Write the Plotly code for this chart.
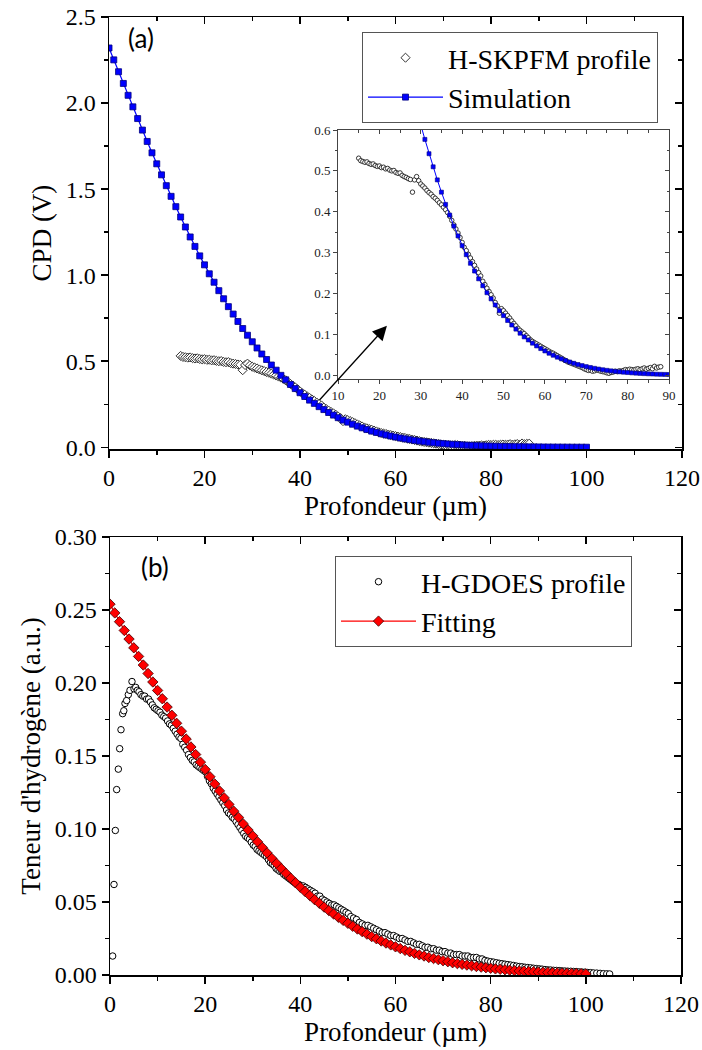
import plotly.graph_objects as go

# ---------------- data ----------------
sim_x = [0, 1, 2, 3, 4, 5, 6, 7, 8, 9, 10, 11, 12, 13, 14, 15, 16, 17, 18, 19, 20,
         21, 22, 23, 24, 25, 26, 27, 28, 29, 30, 31, 32, 33, 34, 35, 36, 37, 38, 39, 40,
         41, 42, 43, 44, 45, 46, 47, 48, 49, 50, 51, 52, 53, 54, 55, 56, 57, 58, 59, 60,
         61, 62, 63, 64, 65, 66, 67, 68, 69, 70, 71, 72, 73, 74, 75, 76, 77, 78, 79, 80,
         81, 82, 83, 84, 85, 86, 87, 88, 89, 90, 91, 92, 93, 94, 95, 96, 97, 98, 99, 100]
sim_y = [2.320, 2.251, 2.182, 2.114, 2.045, 1.978, 1.910, 1.843, 1.777, 1.711, 1.647,
         1.583, 1.520, 1.458, 1.398, 1.338, 1.280, 1.222, 1.167, 1.112, 1.060,
         1.008, 0.959, 0.910, 0.863, 0.817, 0.774, 0.731, 0.690, 0.651, 0.613,
         0.577, 0.542, 0.510, 0.478, 0.448, 0.418, 0.392, 0.365, 0.341, 0.317,
         0.295, 0.274, 0.255, 0.236, 0.219, 0.202, 0.187, 0.172, 0.158, 0.146,
         0.134, 0.123, 0.113, 0.103, 0.094, 0.0865, 0.0786, 0.0719, 0.0654, 0.0596,
         0.0540, 0.0491, 0.0444, 0.0402, 0.0362, 0.0326, 0.0294, 0.0264, 0.0238, 0.0213,
         0.0192, 0.0171, 0.0153, 0.0136, 0.0122, 0.0109, 0.0097, 0.0086, 0.0076, 0.0068,
         0.0060, 0.0053, 0.0047, 0.0041, 0.0036, 0.0032, 0.0028, 0.0025, 0.0022, 0.0019,
         0.0016, 0.0014, 0.0012, 0.0011, 0.0009, 0.0008, 0.0007, 0.0006, 0.0005, 0.0004]

skpfm_x = [15.0, 15.5, 16.0, 16.5, 17.0, 17.5, 18.0, 18.5, 19.0, 19.5, 20.0, 20.5, 21.0, 21.5,
           22.0, 22.5, 23.0, 23.5, 24.0, 24.5, 25.0, 25.5, 26.0, 26.5, 27.0, 27.5, 28.0,
           28.5, 29.0, 29.5, 30.0, 30.5, 31.0, 31.5, 32.0, 32.5, 33.0, 33.5, 34.0, 34.5,
           35.0, 35.5, 36.0, 36.5, 37.0, 37.5, 38.0, 38.5, 39.0, 39.5, 40.0,
           40.5, 41.0, 41.5, 42.0, 42.5, 43.0, 43.5, 44.0, 44.5, 45.0, 45.5, 46.0,
           46.5, 47.0, 47.5, 48.0, 48.5, 49.0, 49.5, 50.0, 50.5, 51.0, 51.5, 52.0,
           52.5, 53.0, 53.5, 54.0, 54.5, 55.0, 55.5, 56.0, 56.5, 57.0, 57.5, 58.0,
           58.5, 59.0, 59.5, 60.0, 60.5, 61.0, 61.5, 62.0, 62.5, 63.0, 63.5, 64.0,
           64.5, 65.0, 65.5, 66.0, 66.5, 67.0, 67.5, 68.0, 68.5, 69.0, 69.5, 70.0,
           70.5, 71.0, 71.5, 72.0, 72.5, 73.0, 73.5, 74.0, 74.5, 75.0, 75.5, 76.0,
           76.5, 77.0, 77.5, 78.0, 78.5, 79.0, 79.5, 80.0, 80.5, 81.0, 81.5, 82.0,
           82.5, 83.0, 83.5, 84.0, 84.5, 85.0, 85.5, 86.0, 86.5, 87.0, 87.5, 88.0]
skpfm_y = [0.531, 0.525, 0.523, 0.521, 0.522, 0.518, 0.516, 0.517, 0.513, 0.511, 0.512, 0.508, 0.509, 0.505,
           0.506, 0.502, 0.500, 0.501, 0.496, 0.494, 0.495, 0.489, 0.486, 0.484, 0.481, 0.479, 0.448,
           0.478, 0.486, 0.476, 0.468, 0.463, 0.458, 0.452, 0.447, 0.443, 0.437, 0.433, 0.428, 0.422,
           0.417, 0.411, 0.405, 0.398, 0.389, 0.379, 0.368, 0.358, 0.348, 0.337, 0.325,
           0.313, 0.305, 0.296, 0.287, 0.278, 0.269, 0.260, 0.251, 0.243, 0.230, 0.222, 0.213,
           0.205, 0.197, 0.189, 0.178, 0.170, 0.152, 0.163, 0.158, 0.152, 0.146, 0.140, 0.133,
           0.127, 0.121, 0.115, 0.110, 0.106, 0.102, 0.097, 0.092, 0.087, 0.083, 0.080, 0.077,
           0.074, 0.071, 0.068, 0.065, 0.062, 0.059, 0.056, 0.054, 0.051, 0.048, 0.045, 0.042,
           0.039, 0.036, 0.033, 0.031, 0.029, 0.027, 0.025, 0.023, 0.021, 0.019, 0.016, 0.014,
           0.012, 0.013, 0.010, 0.011, 0.013, 0.012, 0.010, 0.009, 0.008, 0.006, 0.005, 0.007,
           0.008, 0.010, 0.009, 0.011, 0.010, 0.012, 0.014, 0.013, 0.015, 0.014, 0.013, 0.015,
           0.016, 0.014, 0.016, 0.018, 0.015, 0.017, 0.019, 0.016, 0.022, 0.018, 0.020, 0.021]

fit_x = sim_x
fit_y = [0.2540, 0.2480, 0.2420, 0.2360, 0.2301, 0.2241, 0.2182, 0.2123, 0.2065, 0.2007, 0.1949,
         0.1892, 0.1835, 0.1779, 0.1724, 0.1670, 0.1616, 0.1562, 0.1510, 0.1458, 0.1408,
         0.1358, 0.1309, 0.1261, 0.1213, 0.1168, 0.1122, 0.1079, 0.1035, 0.0993, 0.0953,
         0.0912, 0.0874, 0.0836, 0.0799, 0.0764, 0.0729, 0.0696, 0.0663, 0.0632, 0.0601,
         0.0572, 0.0544, 0.0516, 0.0491, 0.0465, 0.0441, 0.0418, 0.0395, 0.0374, 0.0354,
         0.0334, 0.0315, 0.0297, 0.0280, 0.0263, 0.0248, 0.0233, 0.0219, 0.0206, 0.0193,
         0.0181, 0.0169, 0.0159, 0.0148, 0.0138, 0.0130, 0.0120, 0.0113, 0.0105, 0.0098,
         0.0091, 0.0084, 0.0078, 0.0073, 0.0068, 0.0063, 0.0058, 0.0054, 0.0050, 0.0046,
         0.0042, 0.0039, 0.0036, 0.0033, 0.0030, 0.0028, 0.0026, 0.0024, 0.0022, 0.0020,
         0.0018, 0.0017, 0.0015, 0.0014, 0.0013, 0.0012, 0.0011, 0.0010, 0.0009, 0.0008]

gdoes_x = [0.56, 0.84, 1.12, 1.40, 1.75, 2.03, 2.31, 2.66, 2.90, 3.15, 3.50, 3.85, 4.20, 4.62,
           5.05, 5.40, 5.75, 6.10, 6.50, 6.90, 7.30, 7.70, 8.10, 8.50, 8.90, 9.30, 9.70,
           10.1, 10.5, 10.9, 11.3, 11.7, 12.1, 12.5, 12.9, 13.3, 13.7, 14.1, 14.5, 14.9,
           15.3, 15.7, 16.1, 16.5, 16.9, 17.3, 17.7, 18.1, 18.5, 18.9, 19.3, 19.7,
           20.1, 20.5, 20.9, 21.3, 21.7, 22.1, 22.5, 22.9, 23.3, 23.7, 24.1, 24.5, 24.9,
           25.3, 25.7, 26.1, 26.5, 26.9, 27.3, 27.7, 28.1, 28.5, 28.9, 29.3, 29.7,
           30.1, 30.5, 30.9, 31.3, 31.7, 32.1, 32.5, 32.9, 33.3, 33.7, 34.1, 34.5, 34.9,
           35.3, 35.7, 36.1, 36.5, 36.9, 37.3, 37.7, 38.1, 38.5, 38.9, 39.3, 39.7,
           40.1, 40.6, 41.1, 41.6, 42.1, 42.6, 43.1, 43.6, 44.1, 44.6, 45.1, 45.6,
           46.1, 46.6, 47.1, 47.6, 48.1, 48.6, 49.1, 49.6, 50.1, 50.6,
           51.2, 51.8, 52.4, 53.0, 53.6, 54.2, 54.8, 55.4, 56.0, 56.6, 57.2, 57.8,
           58.4, 59.0, 59.6, 60.2, 60.8, 61.4, 62.0, 62.6, 63.2, 63.8, 64.4, 65.0,
           65.6, 66.2, 66.8, 67.4, 68.0, 68.6, 69.2, 69.8, 70.4, 71.0, 71.6, 72.2,
           72.8, 73.4, 74.0, 74.6, 75.2, 75.8, 76.4, 77.0, 77.6, 78.2, 78.8, 79.4,
           80.0, 80.6, 81.2, 81.8, 82.4, 83.0, 83.6, 84.2, 84.8, 85.4, 86.0, 86.6,
           87.2, 87.8, 88.4, 89.0, 89.6, 90.2, 90.8, 91.4, 92.0, 92.6, 93.2, 93.8,
           94.4, 95.0, 95.6, 96.2, 96.8, 97.4, 98.0, 98.6, 99.2, 99.8, 100.4, 101.0,
           101.6, 102.3, 103.0, 103.7, 104.4, 105.0]
gdoes_y = [0.013, 0.062, 0.099, 0.127, 0.141, 0.155, 0.168, 0.179, 0.181, 0.186, 0.188, 0.192, 0.195, 0.201,
           0.196, 0.197, 0.195, 0.194, 0.192, 0.191, 0.191, 0.189, 0.189, 0.187, 0.185, 0.183, 0.182,
           0.181, 0.180, 0.178, 0.177, 0.176, 0.174, 0.172, 0.171, 0.169, 0.167, 0.165, 0.163, 0.162,
           0.158, 0.156, 0.154, 0.151, 0.149, 0.147, 0.146, 0.144, 0.143, 0.142, 0.141, 0.140,
           0.139, 0.136, 0.133, 0.131, 0.128, 0.126, 0.124, 0.122, 0.120, 0.118, 0.116, 0.113, 0.111,
           0.110, 0.108, 0.107, 0.105, 0.103, 0.101, 0.099, 0.097, 0.095, 0.094, 0.093, 0.091,
           0.089, 0.088, 0.086, 0.085, 0.084, 0.083, 0.082, 0.081, 0.079, 0.077, 0.076, 0.075, 0.073,
           0.072, 0.071, 0.071, 0.069, 0.068, 0.067, 0.066, 0.065, 0.064, 0.063, 0.062, 0.062,
           0.061, 0.061, 0.060, 0.059, 0.058, 0.057, 0.056, 0.054, 0.054, 0.052, 0.051, 0.050,
           0.049, 0.048, 0.048, 0.047, 0.046, 0.045, 0.044, 0.043, 0.042, 0.040,
           0.039, 0.038, 0.036, 0.035, 0.034, 0.034, 0.033, 0.032, 0.031, 0.030, 0.029, 0.029,
           0.028, 0.027, 0.027, 0.026, 0.025, 0.025, 0.024, 0.023, 0.023, 0.022, 0.021, 0.021,
           0.020, 0.019, 0.019, 0.018, 0.018, 0.017, 0.017, 0.016, 0.016, 0.015, 0.015, 0.014,
           0.014, 0.014, 0.013, 0.013, 0.013, 0.012, 0.012, 0.012, 0.011, 0.011, 0.010, 0.0095,
           0.0091, 0.0088, 0.0084, 0.0080, 0.0077, 0.0074, 0.0071, 0.0068, 0.0065, 0.0061, 0.0058, 0.0056,
           0.0053, 0.0051, 0.0049, 0.0046, 0.0044, 0.0042, 0.0040, 0.0037, 0.0035, 0.0034, 0.0032, 0.0031,
           0.0030, 0.0028, 0.0027, 0.0026, 0.0025, 0.0024, 0.0023, 0.0021, 0.0020, 0.0019, 0.0017, 0.0016,
           0.0014, 0.0013, 0.0011, 0.0009, 0.0008, 0.0007]

# ---------------- styling ----------------
W, H = 702, 1050
SERIF = "Liberation Serif"
TICK_FONT = dict(family=SERIF, size=24, color="black")
TITLE_FONT = dict(family=SERIF, size=27, color="black")


def dom_x(a, b):
    return [a / W, b / W]


def dom_y(top, bottom):
    return [1 - bottom / H, 1 - top / H]


def main_axis(**kw):
    d = dict(showline=True, linecolor="black", linewidth=1.5, mirror=False, automargin=False,
             ticks="outside", ticklen=7, tickwidth=1.5, tickcolor="black",
             showgrid=False, zeroline=False, tickfont=TICK_FONT,
             minor=dict(ticks="outside", ticklen=4, tickwidth=1.5, tickcolor="black", showgrid=False))
    d.update(kw)
    return d


def mirror_axis(**kw):
    d = dict(showline=True, linecolor="black", linewidth=1.5, automargin=False,
             ticks="inside", ticklen=7, tickwidth=1.5, tickcolor="black",
             showgrid=False, zeroline=False, showticklabels=False,
             minor=dict(ticks="inside", ticklen=4, tickwidth=1.5, tickcolor="black", showgrid=False))
    d.update(kw)
    return d


def inset_axis(**kw):
    d = dict(showline=True, linecolor="#444", linewidth=1, automargin=False,
             ticks="outside", ticklen=4, tickwidth=1, tickcolor="#444",
             showgrid=False, zeroline=False,
             tickfont=dict(family=SERIF, size=13, color="#222"),
             minor=dict(ticks="outside", ticklen=2.5, tickwidth=1, tickcolor="#444", showgrid=False))
    d.update(kw)
    return d


def inset_mirror(**kw):
    d = dict(showline=True, linecolor="#444", linewidth=1, automargin=False,
             ticks="inside", ticklen=4, tickwidth=1, tickcolor="#444",
             showgrid=False, zeroline=False, showticklabels=False,
             minor=dict(ticks="inside", ticklen=2.5, tickwidth=1, tickcolor="#444", showgrid=False))
    d.update(kw)
    return d


fig = go.Figure()

# ---- panel (a) main ----
fig.add_trace(go.Scatter(
    x=skpfm_x, y=skpfm_y, mode="markers", name="H-SKPFM profile",
    marker=dict(symbol="diamond", size=7, color="white", line=dict(color="#333", width=1)),
    xaxis="x", yaxis="y", legend="legend"))
fig.add_trace(go.Scatter(
    x=sim_x, y=sim_y, mode="lines+markers", name="Simulation",
    line=dict(color="#0000ff", width=1.2),
    marker=dict(symbol="square", size=6, color="#0000ff", line=dict(color="#000080", width=0.8)),
    xaxis="x", yaxis="y", legend="legend"))

# ---- panel (a) inset ----
fig.add_trace(go.Scatter(
    x=skpfm_x, y=skpfm_y, mode="markers", showlegend=False,
    marker=dict(symbol="circle", size=4.5, color="white", line=dict(color="#222", width=0.9)),
    xaxis="x2", yaxis="y2"))
fig.add_trace(go.Scatter(
    x=sim_x, y=sim_y, mode="lines+markers", showlegend=False,
    line=dict(color="#0000ff", width=1),
    marker=dict(symbol="square", size=4, color="#0000ff", line=dict(color="#000080", width=0.6)),
    xaxis="x2", yaxis="y2"))

# ---- panel (b) ----
fig.add_trace(go.Scatter(
    x=gdoes_x, y=gdoes_y, mode="markers", name="H-GDOES profile",
    marker=dict(symbol="circle", size=6.5, color="white", line=dict(color="black", width=1)),
    xaxis="x3", yaxis="y3", legend="legend2"))
fig.add_trace(go.Scatter(
    x=fit_x, y=fit_y, mode="lines+markers", name="Fitting",
    line=dict(color="#ff0000", width=1.2),
    marker=dict(symbol="diamond", size=8, color="#ff0000", line=dict(color="#400000", width=0.8)),
    xaxis="x3", yaxis="y3", legend="legend2"))

# empty traces so that mirror axes are drawn
for xa, ya in [("x4", "y4"), ("x5", "y5"), ("x6", "y6")]:
    fig.add_trace(go.Scatter(x=[], y=[], xaxis=xa, yaxis=ya, showlegend=False, hoverinfo="skip"))

A_X = dom_x(109, 682)
A_Y = dom_y(17, 449)
I_X = dom_x(338, 669)
I_Y = dom_y(130, 379)
B_X = dom_x(110, 681)
B_Y = dom_y(537, 975)

fig.update_layout(
    width=W, height=H,
    margin=dict(l=0, r=0, t=0, b=0, autoexpand=False),
    paper_bgcolor="white", plot_bgcolor="white",
    font=dict(family=SERIF, color="black"),
    xaxis=main_axis(domain=A_X, range=[0, 120], dtick=20, anchor="y",
                    minor_dtick=10,
                    title=dict(text="Profondeur (µm)", font=TITLE_FONT, standoff=2)),
    yaxis=main_axis(domain=A_Y, range=[-0.01, 2.5], dtick=0.5, tickformat=".1f", anchor="x",
                    minor_dtick=0.25,
                    title=dict(text="CPD (V)", font=TITLE_FONT, standoff=6)),
    xaxis4=mirror_axis(domain=A_X, range=[0, 120], dtick=20, minor_dtick=10,
                       anchor="y4", side="top", overlaying="x"),
    yaxis4=mirror_axis(domain=A_Y, range=[-0.01, 2.5], dtick=0.5, minor_dtick=0.25,
                       anchor="x4", side="right", overlaying="y"),
    xaxis2=inset_axis(domain=I_X, range=[10, 90], dtick=10, minor_dtick=5, anchor="y2"),
    yaxis2=inset_axis(domain=I_Y, range=[-0.009, 0.6], dtick=0.1, minor_dtick=0.05,
                      tickformat=".1f", anchor="x2"),
    xaxis5=inset_mirror(domain=I_X, range=[10, 90], dtick=10, minor_dtick=5,
                        anchor="y5", side="top", overlaying="x2"),
    yaxis5=inset_mirror(domain=I_Y, range=[-0.009, 0.6], dtick=0.1, minor_dtick=0.05,
                        anchor="x5", side="right", overlaying="y2"),
    xaxis3=main_axis(domain=B_X, range=[0, 120], dtick=20, minor_dtick=10, anchor="y3",
                     title=dict(text="Profondeur (µm)", font=TITLE_FONT, standoff=2)),
    yaxis3=main_axis(domain=B_Y, range=[0, 0.30], dtick=0.05, minor_dtick=0.025,
                     tickformat=".2f", anchor="x3",
                     title=dict(text="Teneur d'hydrogène (a.u.)", font=TITLE_FONT, standoff=6)),
    xaxis6=mirror_axis(domain=B_X, range=[0, 120], dtick=20, minor_dtick=10,
                       anchor="y6", side="top", overlaying="x3"),
    yaxis6=mirror_axis(domain=B_Y, range=[0, 0.30], dtick=0.05, minor_dtick=0.025,
                       anchor="x6", side="right", overlaying="y3"),
    legend=dict(x=362 / W, y=1 - 32 / H, xanchor="left", yanchor="top",
                bgcolor="white", bordercolor="#555", borderwidth=1,
                font=dict(family=SERIF, size=28, color="black"), itemwidth=75),
    legend2=dict(x=335 / W, y=1 - 556 / H, xanchor="left", yanchor="top",
                 bgcolor="white", bordercolor="#555", borderwidth=1,
                 font=dict(family=SERIF, size=28, color="black"), itemwidth=75),
    showlegend=True,
    annotations=[
        dict(text="(a)", xref="paper", yref="paper", x=141 / W, y=1 - 38 / H,
             xanchor="center", yanchor="middle", showarrow=False,
             font=dict(family="Lato", size=26, color="black")),
        dict(text="(b)", xref="paper", yref="paper", x=155 / W, y=1 - 567 / H,
             xanchor="center", yanchor="middle", showarrow=False,
             font=dict(family="Lato", size=26, color="black")),
        dict(text="", xref="x", yref="y", x=58.2, y=0.706, axref="x", ayref="y",
             ax=43.8, ay=0.266, showarrow=True, arrowhead=2, arrowsize=2.2,
             arrowwidth=1.3, arrowcolor="black"),
    ],
)

fig.write_html("out.html",
               config={"displayModeBar": False, "staticPlot": True},
               post_script="document.body.style.margin='0';document.body.style.overflow='hidden';")
